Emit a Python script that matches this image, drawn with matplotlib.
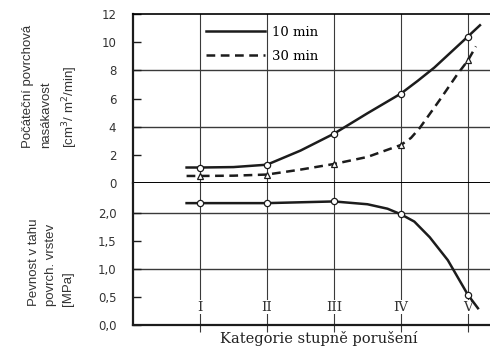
import matplotlib.pyplot as plt

# categories (I..V at x = 1..5)
cats = [1, 2, 3, 4, 5]
cat_labels = ["I", "II", "III", "IV", "V"]

# water absorption, values at the categories
sorp10 = [1.1, 1.3, 3.5, 6.35, 10.4]
sorp30 = [0.5, 0.6, 1.35, 2.7, 8.7]
# tensile strength at the categories
strength = [2.18, 2.18, 2.21, 1.98, 0.54]

# curve points
curve_x10 = [0.8, 1.0, 1.5, 2.0, 2.5, 3.0, 3.5, 4.0, 4.25, 4.5, 4.75, 5.0, 5.18]
curve_y10 = [1.1, 1.1, 1.13, 1.3, 2.3, 3.5, 4.95, 6.35, 7.25, 8.2, 9.3, 10.4, 11.2]
curve_x30 = [0.8, 1.0, 1.5, 2.0, 2.5, 3.0, 3.5, 4.0, 4.15, 4.28, 4.58, 4.84, 5.0, 5.12]
curve_y30 = [0.5, 0.5, 0.52, 0.6, 0.95, 1.35, 1.85, 2.7, 3.2, 3.9, 5.9, 7.7, 8.7, 9.7]
curve_xs = [0.8, 1.0, 2.0, 3.0, 3.5, 3.8, 4.0, 4.2, 4.43, 4.7, 5.0, 5.15]
curve_ys = [2.18, 2.18, 2.18, 2.21, 2.16, 2.08, 1.98, 1.85, 1.57, 1.16, 0.54, 0.3]

up_ticks = [0, 2, 4, 6, 8, 10, 12]
low_ticks = [0.0, 0.5, 1.0, 1.5, 2.0]
low_labels = ["0,0", "0,5", "1,0", "1,5", "2,0"]

ink = "#1c1c1c"
gridc = "#3a3a3a"
serif = "DejaVu Serif"
sans = "Liberation Sans"

fig = plt.figure(figsize=(4.9, 3.48), dpi=100)
ax1 = fig.add_axes([133/490, 165/348, 357/490, 169/348])
ax2 = fig.add_axes([133/490, 23/348, 357/490, 142/348])

for ax in (ax1, ax2):
    ax.set_xlim(0, 5.33)
    for x in cats:
        ax.axvline(x, color=gridc, lw=0.8, zorder=1)
    ax.spines["right"].set_visible(False)
    ax.spines["left"].set_linewidth(1.6)
    ax.spines["left"].set_color(ink)
    ax.tick_params(axis="y", direction="in", length=6, width=1.0, color=ink,
                   labelsize=8.5, labelcolor="#333333", pad=12)

# upper panel
ax1.set_ylim(0, 12)
ax1.set_yticks(up_ticks)
ax1.set_xticks([])
for y in [4, 8]:
    ax1.axhline(y, color=gridc, lw=1.0, zorder=1)
ax1.spines["top"].set_linewidth(1.2)
ax1.spines["bottom"].set_linewidth(1.4)
ax1.plot(curve_x10, curve_y10, color=ink, lw=1.8, zorder=3, label="10 min")
ax1.plot(curve_x30, curve_y30, color=ink, lw=1.8, ls=(0, (3.5, 2.2)), zorder=3,
         label="30 min")
ax1.plot(cats, sorp10, ls="none", marker="o", ms=4.5, mfc="white", mec=ink,
         mew=0.9, zorder=4)
ax1.plot(cats, sorp30, ls="none", marker="^", ms=5, mfc="white", mec=ink,
         mew=0.9, zorder=4)
ax1.legend(loc="upper left", bbox_to_anchor=(0.17, 1.0), frameon=False,
           handlelength=4.5, handletextpad=0.55, labelspacing=0.85,
           prop={"family": serif, "size": 9.5})

# lower panel
ax2.set_ylim(0, 2.54)
ax2.set_yticks(low_ticks)
ax2.set_yticklabels(low_labels)
for y in [1.0, 2.0]:
    ax2.axhline(y, color=gridc, lw=1.0, zorder=1)
ax2.spines["top"].set_visible(False)
ax2.spines["bottom"].set_linewidth(1.6)
ax2.spines["bottom"].set_color(ink)
ax2.set_xticks(cats)
ax2.set_xticklabels([])
ax2.tick_params(axis="x", direction="out", length=5, width=0.8, color=gridc)
ax2.plot(curve_xs, curve_ys, color=ink, lw=1.8, zorder=3)
ax2.plot(cats, strength, ls="none", marker="o", ms=4.5, mfc="white", mec=ink,
         mew=0.9, zorder=4)
for x, lab in zip(cats, cat_labels):
    ax2.text(x, 0.32, lab, ha="center", va="center", family=serif, size=9.5,
             color="#333333", zorder=2,
             bbox=dict(boxstyle="square,pad=0.05", fc="white", ec="none"))

fig.text(319/490, 10/348, "Kategorie stupně porušení", ha="center",
         va="center", family=serif, size=10.5, color="#222222")
fig.text(51/490, 1 - 86/348, "Počáteční povrchová\nnasákavost\n[cm$^3$/ m$^2$/min]",
         rotation=90, ha="center", va="center", family=sans,
         size=9.5, color="#333333", linespacing=1.6, multialignment="left")
fig.text(51/490, 1 - 262/348, "Pevnost v tahu\npovrch. vrstev\n[MPa]",
         rotation=90, ha="center", va="center", family=sans,
         size=9.5, color="#333333", linespacing=1.6, multialignment="left")

fig.savefig("out.png", dpi=100)
